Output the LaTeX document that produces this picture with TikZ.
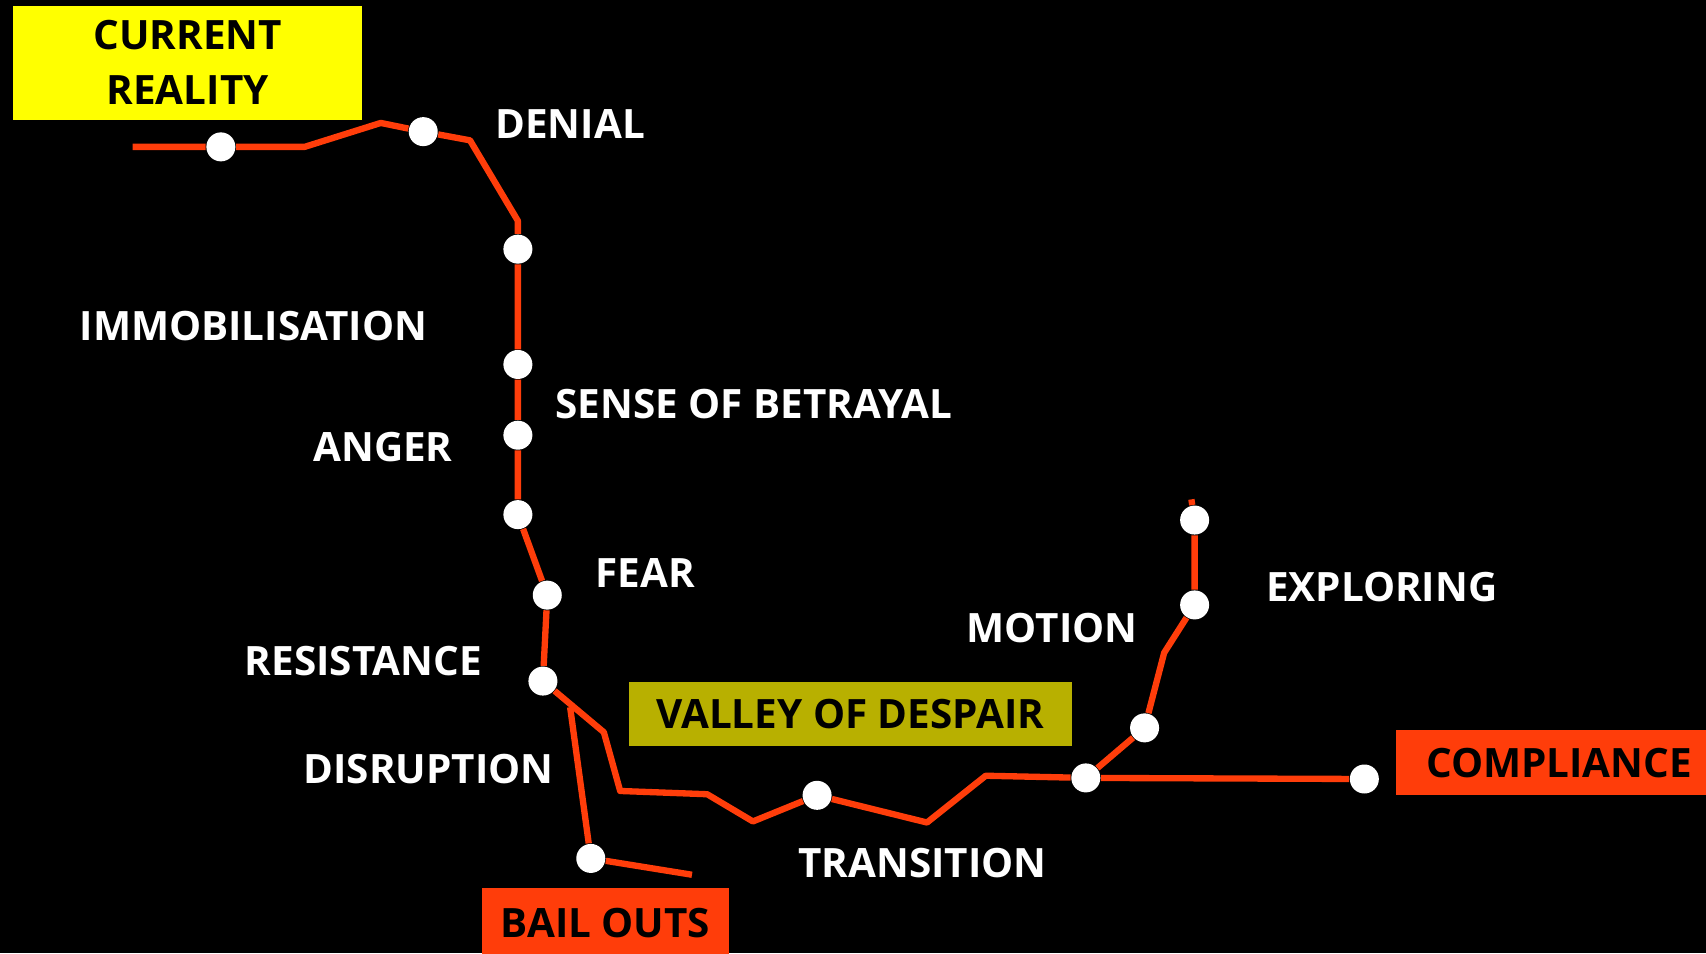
\documentclass[tikz,border=0pt]{standalone}
\usepackage{fontspec}
\setmainfont{Open Sans}
\usepackage{tikz}
\usetikzlibrary{positioning}
\usepackage{xcolor}
\definecolor{trackred}{HTML}{FF3D0A}
\definecolor{realyellow}{HTML}{FFFF00}
\definecolor{valleyolive}{HTML}{B8B000}

\begin{document}
\begin{tikzpicture}[x=0.1088mm,y=-0.1088mm,
    station/.style={circle,fill=white,minimum size=2.9mm,inner sep=0pt},
    lbl/.style={text=white,inner sep=0pt,font=\fontsize{11.5}{14}\selectfont\bfseries},
    tag/.style={text=black,inner sep=0pt,font=\fontsize{11.5}{15.8}\selectfont\bfseries},
    route/.style={draw=trackred,line width=1.8pt,line join=round}
    ]
\fill[black] (0,0) rectangle (1568,876);
\useasboundingbox (0,0) rectangle (1568,876);

\node[tag,fill=realyellow,minimum width=34.9mm,minimum height=11.4mm,align=center] (reality) at (172.5,57.5) {CURRENT\\REALITY};
\node[tag,fill=valleyolive,minimum width=44.3mm,minimum height=6.4mm] (valley) at (781.5,656.5) {VALLEY OF DESPAIR};
\node[tag,fill=trackred,minimum width=24.7mm,minimum height=7mm] (bailouts) at (556.5,848) {BAIL OUTS};
\node[tag,fill=trackred,minimum width=32.6mm,minimum height=6.5mm] (compliance) at (1433,701) {COMPLIANCE};

\coordinate (start) at (122,135);
\coordinate (top) at (1095,459);
\coordinate (fork) at (524,650);
\coordinate (bailend) at (636,804);

\node[station] (d1) at (203,135) {};
\node[station] (d2) at (389,121) {};
\node[station] (d3) at (476,229) {};
\node[station] (d4) at (476,335) {};
\node[station] (d5) at (476,400) {};
\node[station] (d6) at (476,473) {};
\node[station] (d7) at (503,547) {};
\node[station] (d8) at (499,626) {};
\node[station] (d9) at (751,731) {};
\node[station] (d10) at (998,715) {};
\node[station] (d11) at (1052,669) {};
\node[station] (d12) at (1098,556) {};
\node[station] (d13) at (1098,478) {};
\node[station] (d14) at (1254,716) {};
\node[station] (d15) at (543,789) {};

\draw[route] (start) -- (d1) -- (280,135) -- (350,113) -- (d2) -- (432,129) -- (476,203) -- (d3);
\draw[route] (d3) -- (d4) -- (d5) -- (d6) -- (d7) -- (d8);
\draw[route] (d8) -- (555,673) -- (570,727) -- (650,730) -- (692,755) -- (d9) -- (852,756) -- (906,713) -- (d10);
\draw[route] (d10) -- (d11) -- (1070,600) -- (d12) -- (d13) -- (top);
\draw[route] (d10) -- (d14);
\draw[route] (fork) -- (d15) -- (bailend);

\node[lbl] (denial) at (524,114) {DENIAL};
\node[lbl] (immob) at (233,300) {IMMOBILISATION};
\node[lbl] (betrayal) at (693,371) {SENSE OF BETRAYAL};
\node[lbl] (anger) at (352,411) {ANGER};
\node[lbl] (fear) at (593,527) {FEAR};
\node[lbl] (resist) at (334,608) {RESISTANCE};
\node[lbl] (disrupt) at (394,707) {DISRUPTION};
\node[lbl] (transition) at (848,793) {TRANSITION};
\node[lbl] (motion) at (967,577) {MOTION};
\node[lbl] (exploring) at (1270,540) {EXPLORING};
\end{tikzpicture}
\end{document}
